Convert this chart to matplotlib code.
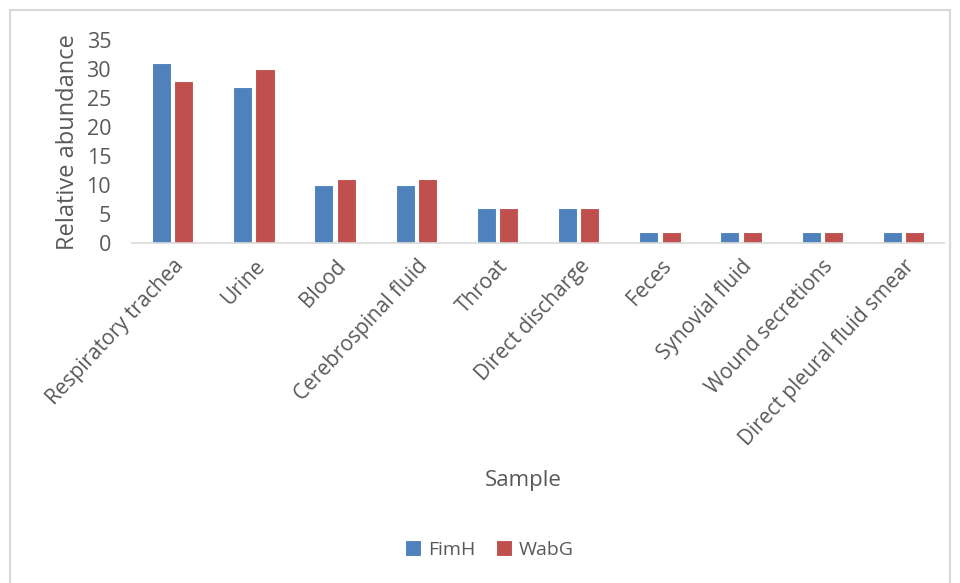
import numpy as np
import matplotlib
matplotlib.use("Agg")
import matplotlib.pyplot as plt
from matplotlib.patches import Rectangle

plt.rcParams['font.family'] = ['Open Sans', 'DejaVu Sans']

samples = ["Respiratory trachea", "Urine", "Blood", "Cerebrospinal fluid",
           "Throat", "Direct discharge", "Feces", "Synovial fluid",
           "Wound secretions", "Direct pleural fluid smear"]
fimh = [31, 27, 10, 10, 6, 6, 2, 2, 2, 2]
wabg = [28, 30, 11, 11, 6, 6, 2, 2, 2, 2]

text_col = "#595959"

fig = plt.figure(figsize=(9.6, 5.83), dpi=100)
ax = fig.add_axes([0.1375, 0.583, 0.846, 0.348])

x = np.arange(len(samples))
w = 0.235
ax.bar(x - w/2 - 0.02, fimh, w, color="#4F81BD", edgecolor="white", linewidth=0.8, label="FimH")
ax.bar(x + w/2 + 0.02, wabg, w, color="#C0504D", edgecolor="white", linewidth=0.8, label="WabG")

ax.set_xlim(-0.5, len(samples) - 0.5)
ax.set_ylim(0, 35)
ax.set_yticks(range(0, 36, 5))
ax.set_xticks(x)
ax.set_xticklabels(samples, rotation=47, ha="right", rotation_mode="anchor",
                   fontsize=15, color=text_col)
ax.tick_params(axis="y", length=0, labelsize=15.5, labelcolor=text_col, pad=15)
ax.tick_params(axis="x", length=0, pad=9)

for s in ["top", "right", "left"]:
    ax.spines[s].set_visible(False)
ax.spines["bottom"].set_color("#d9d9d9")
ax.spines["bottom"].set_linewidth(1.2)

ax.set_ylabel("Relative abundance", fontsize=17, color=text_col, labelpad=5)
fig.text(0.545, 0.176, "Sample", fontsize=16, color=text_col, ha="center", va="center")

fig.legend(loc="center", bbox_to_anchor=(0.51, 0.058), ncol=2, frameon=False,
           fontsize=14, labelcolor=text_col, handlelength=0.8, handleheight=0.95,
           handletextpad=0.35, columnspacing=1.1)

fig.patches.append(Rectangle((10/960, -0.01), 940/960, 1 - 10/583 + 0.01,
                             transform=fig.transFigure, fill=False,
                             edgecolor="#d9d9d9", linewidth=1.5))

fig.savefig("out.png", dpi=100)
